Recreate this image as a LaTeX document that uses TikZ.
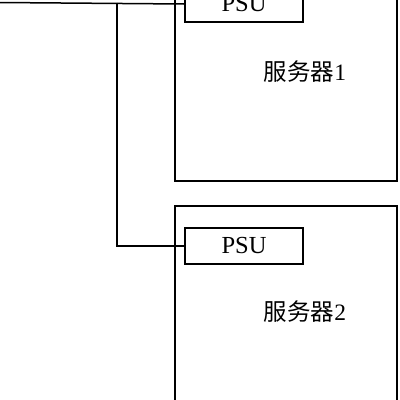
\documentclass[tikz,border=0pt]{standalone}
\usepackage{fontspec}
\setmainfont{Liberation Serif}
\newfontfamily\cjk{Noto Sans CJK SC}
\usetikzlibrary{positioning}

\begin{document}
\begin{tikzpicture}[x=1pt,y=-1pt,line width=1.5pt,
  srvbox/.style={draw,minimum width=222pt,minimum height=216pt,inner sep=0pt},
  psubox/.style={draw,minimum width=118pt,minimum height=36pt,inner sep=0pt,
    font=\fontsize{24.5}{28}\selectfont},
  srvlabel/.style={font=\fontsize{23.5}{27}\selectfont,inner sep=0pt}]
\useasboundingbox (0,0) rectangle (400,400);
\clip (0,0) rectangle (400,400);
% servers
\node[srvbox] (srv1) at (286,73) {};
\node[srvbox] (srv2) at (286,314) {};
% power supply units
\node[psubox] (psu1) at (244,4) {PSU};
\node[psubox] (psu2) at (244,246) {PSU};
\node[srvlabel] (lbl1) at (305,72) {{\cjk 服务器}1};
\node[srvlabel] (lbl2) at (305,312) {{\cjk 服务器}2};
% power feed
\coordinate (feed) at (0,2.5);
\coordinate (tap) at (117,2.5);
\draw (feed) -- (psu1.west);
\draw (tap) |- (psu2.west);
\end{tikzpicture}
\end{document}
